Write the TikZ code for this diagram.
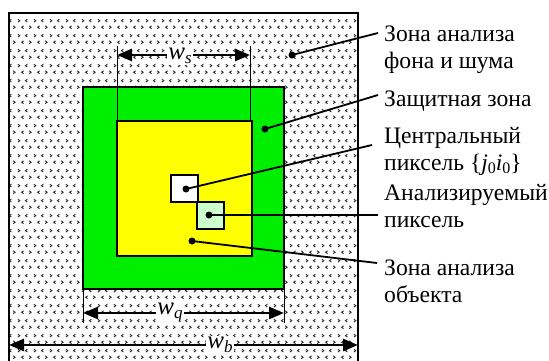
\documentclass[tikz,border=0pt]{standalone}
\usepackage{fontspec}
\setmainfont{Liberation Serif}
\usetikzlibrary{arrows.meta,patterns}
\pgfdeclarepatternformonly{chev}{\pgfpointorigin}{\pgfqpoint{16pt}{15pt}}{\pgfqpoint{16pt}{15pt}}{%
  \pgfsetlinewidth{1pt}%
  \pgfpathmoveto{\pgfqpoint{2pt}{12.5pt}}\pgfpathlineto{\pgfqpoint{4pt}{11pt}}\pgfpathlineto{\pgfqpoint{2pt}{9.5pt}}%
  \pgfpathmoveto{\pgfqpoint{12pt}{12.5pt}}\pgfpathlineto{\pgfqpoint{10pt}{11pt}}\pgfpathlineto{\pgfqpoint{12pt}{9.5pt}}%
  \pgfpathmoveto{\pgfqpoint{8pt}{5.5pt}}\pgfpathlineto{\pgfqpoint{6pt}{4pt}}\pgfpathlineto{\pgfqpoint{8pt}{2.5pt}}%
  \pgfpathmoveto{\pgfqpoint{14pt}{5.5pt}}\pgfpathlineto{\pgfqpoint{16pt}{4pt}}\pgfpathlineto{\pgfqpoint{14pt}{2.5pt}}%
  \pgfusepath{stroke}%
}
\definecolor{zgreen}{RGB}{0,238,0}
\definecolor{zyellow}{RGB}{255,255,0}
\definecolor{zlight}{RGB}{204,255,204}
\tikzset{
  zone/.style={draw=black, line width=1.5pt, inner sep=0pt, outer sep=0pt},
  dotmark/.style={circle, fill=black, inner sep=0pt, minimum size=7pt},
  leader/.style={line width=1.8pt},
  dimline/.style={line width=2.6pt, {Triangle[length=15pt,width=12pt]}-{Triangle[length=15pt,width=12pt]}},
  extline/.style={line width=0.9pt},
  dimlabel/.style={fill=white, inner sep=1.5pt, font=\fontsize{25}{25}\selectfont},
  txt/.style={anchor=base west, align=left, inner sep=0pt, font=\fontsize{23.6}{27}\selectfont},
}
\newcommand{\wlab}[1]{\textit{w}\raisebox{-0.35ex}{\fontsize{17}{17}\selectfont\textit{#1}}}
\begin{document}
\begin{tikzpicture}[x=1pt,y=-1pt]
\useasboundingbox (0,0) rectangle (549,360);
\begin{scope}
\clip (0,0) rectangle (549,360);
% background zone
\node[zone, fill=white, minimum width=349pt, minimum height=349pt] (bg) at (183.5,187.5) {};
\fill[pattern=chev, pattern color=black!80] (bg.north west) rectangle (bg.south east);
\draw[line width=1.8pt] (bg.north west) rectangle (bg.south east);
\end{scope}
% guard zone
\node[zone, fill=zgreen, minimum width=201pt, minimum height=202pt] (guard) at (183.5,188) {};
% object zone
\node[zone, fill=zyellow, minimum width=135pt, minimum height=135pt] (obj) at (184.5,188.5) {};
% central pixel
\node[zone, fill=white, minimum width=27pt, minimum height=27pt] (cen) at (184.5,188.5) {};
% analysed pixel
\node[zone, fill=zlight, minimum width=27pt, minimum height=27pt] (ana) at (210.5,215.5) {};

% dots
\node[dotmark] (dbg) at (292,55) {};
\node[dotmark] (dguard) at (265,129) {};
\node[dotmark] (dcen) at (186,189) {};
\node[dotmark] (dana) at (209,215) {};
\node[dotmark] (dobj) at (192,241) {};

% leader ends
\coordinate (ebg) at (378,33);
\coordinate (eguard) at (378,95);
\coordinate (ecen) at (372,145);
\coordinate (eana) at (378,215);
\coordinate (eobj) at (377,263);

\draw[leader] (dbg.center) -- (ebg);
\draw[leader] (dguard.center) -- (eguard);
\draw[leader] (dcen.center) -- (ecen);
\draw[leader] (dana.center) -- (eana);
\draw[leader] (dobj.center) -- (eobj);

% labels (base anchor = baseline of last line)
\node[txt] (lbg) at (384,68) {Зона анализа\\фона и шума};
\node[txt] (lguard) at (384,106) {Защитная зона};
\node[txt] (lcen) at (384,170) {Центральный\\пиксель \{\textit{j}\raisebox{-0.3ex}{\fontsize{16}{16}\selectfont 0}\textit{i}\raisebox{-0.3ex}{\fontsize{16}{16}\selectfont 0}\}};
\node[txt] (lana) at (384,227) {Анализируемый\\пиксель};
\node[txt] (lobj) at (384,302) {Зона анализа\\объекта};

% w_s dimension
\coordinate (s1top) at (obj.north west |- 0,46);
\coordinate (s2top) at (250,46);
\coordinate (s2bot) at (250,121);
\draw[extline] (s1top) -- (obj.north west);
\draw[extline] (s2top) -- (s2bot);
\coordinate (s1) at (obj.north west |- 0,55);
\coordinate (s2) at (250,55);
\draw[dimline] (s1) -- (s2);
\node[dimlabel] (ws) at (180,56) {\wlab{s}};

% w_q dimension
\coordinate (q1bot) at (guard.south west |- 0,323);
\coordinate (q2bot) at (guard.south east |- 0,323);
\draw[extline] (guard.south west) -- (q1bot);
\draw[extline] (guard.south east) -- (q2bot);
\coordinate (q1) at (guard.south west |- 0,313);
\coordinate (q2) at (guard.south east |- 0,313);
\draw[dimline] (q1) -- (q2);
\node[dimlabel] (wq) at (170,313) {\wlab{q}};

% w_b dimension
\coordinate (b1) at (bg.west |- 0,345);
\coordinate (b2) at (bg.east |- 0,345);
\draw[dimline] (b1) -- (b2);
\node[dimlabel] (wb) at (220,345) {\wlab{b}};
\end{tikzpicture}
\end{document}
